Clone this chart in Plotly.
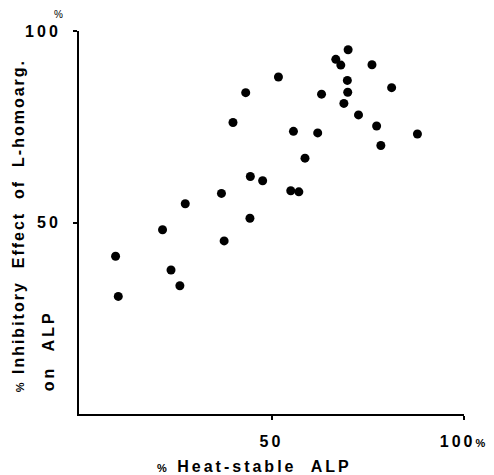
import plotly.graph_objects as go

heat_stable_alp = [69.9, 66.7, 68.0, 76.1, 51.8, 69.7, 43.3, 63.0, 69.8, 81.2, 68.8,
                   72.6, 77.3, 55.7, 62.0, 87.9, 78.4, 58.7, 44.5, 47.7, 55.0, 57.1,
                   44.4, 40.0, 37.0, 27.6, 21.7, 37.7, 9.5, 23.9, 26.2, 10.2]
inhibitory_effect = [95.1, 92.6, 91.1, 91.2, 88.0, 87.1, 83.9, 83.5, 84.0, 85.2, 81.1,
                     78.1, 75.2, 73.8, 73.4, 73.1, 70.1, 66.8, 62.0, 60.9, 58.3, 58.0,
                     51.1, 76.1, 57.6, 54.9, 48.1, 45.2, 41.2, 37.6, 33.5, 30.7]

x_tickvals = [50, 100]
x_ticktext = ["50", "100<span style='font-size:11px'>%</span>"]
y_tickvals = [50, 100]
y_ticktext = ["50", "100"]

FONT = "Liberation Sans, Arial, sans-serif"
LS = "letter-spacing:2px"
LS3 = "letter-spacing:3px"

# The page body adds an 8px offset; layout is expressed in window pixels.
OFF = 8
PL, PR, PT, PB = 79, 464.5, 31, 414.3  # plot area in window pixels
W, H = 494 - OFF, 475 - OFF

fig = go.Figure(go.Scatter(
    x=heat_stable_alp, y=inhibitory_effect, mode="markers",
    marker=dict(color="black", size=9),
    hoverinfo="x+y", showlegend=False,
))

axis_common = dict(
    showgrid=False, zeroline=False, showline=True, linecolor="black", linewidth=2,
    ticks="outside", ticklen=4, tickwidth=2, tickcolor="black", automargin=False,
    tickfont=dict(family=FONT, size=16, color="black", weight="bold"),
)

fig.update_xaxes(range=[0, 100], tickvals=x_tickvals,
                 ticktext=[f"<span style='{LS3}'>{t}</span>" for t in x_ticktext],
                 ticklabelstandoff=8, **axis_common)
fig.update_yaxes(range=[0, 100], tickvals=y_tickvals,
                 ticktext=[f"<span style='{LS3}'>{t}</span>" for t in y_ticktext],
                 ticklabelstandoff=9, **axis_common)

def px_to_paper_x(px):
    return (px - PL) / (PR - PL)

def px_to_paper_y(py):
    return (PB - py) / (PB - PT)

annotations = [
    dict(text="%", x=px_to_paper_x(58), y=px_to_paper_y(14),
         xref="paper", yref="paper", showarrow=False, xanchor="center", yanchor="middle",
         font=dict(family=FONT, size=10, color="black")),
    dict(text=f"<span style='{LS3}'><span style='font-size:11px'>%</span> Heat-stable  ALP</span>",
         x=px_to_paper_x(255), y=px_to_paper_y(467),
         xref="paper", yref="paper", showarrow=False, xanchor="center", yanchor="middle",
         font=dict(family=FONT, size=16, color="black", weight="bold")),
    dict(text=f"<span style='{LS}'><span style='font-size:11px'>%</span> Inhibitory  Effect  of  L-homoarg.</span>",
         x=px_to_paper_x(18), y=px_to_paper_y(395),
         xref="paper", yref="paper", showarrow=False, xanchor="center", yanchor="bottom",
         textangle=-90,
         font=dict(family=FONT, size=16, color="black", weight="bold")),
    dict(text=f"<span style='{LS3}'>on  ALP</span>",
         x=px_to_paper_x(48), y=px_to_paper_y(394),
         xref="paper", yref="paper", showarrow=False, xanchor="center", yanchor="bottom",
         textangle=-90,
         font=dict(family=FONT, size=16, color="black", weight="bold")),
]

fig.update_layout(
    width=W, height=H,
    margin=dict(l=PL - OFF, r=W - (PR - OFF), t=PT - OFF, b=H - (PB - OFF)),
    paper_bgcolor="white", plot_bgcolor="white",
    annotations=annotations,
)

fig.write_html("out.html")
